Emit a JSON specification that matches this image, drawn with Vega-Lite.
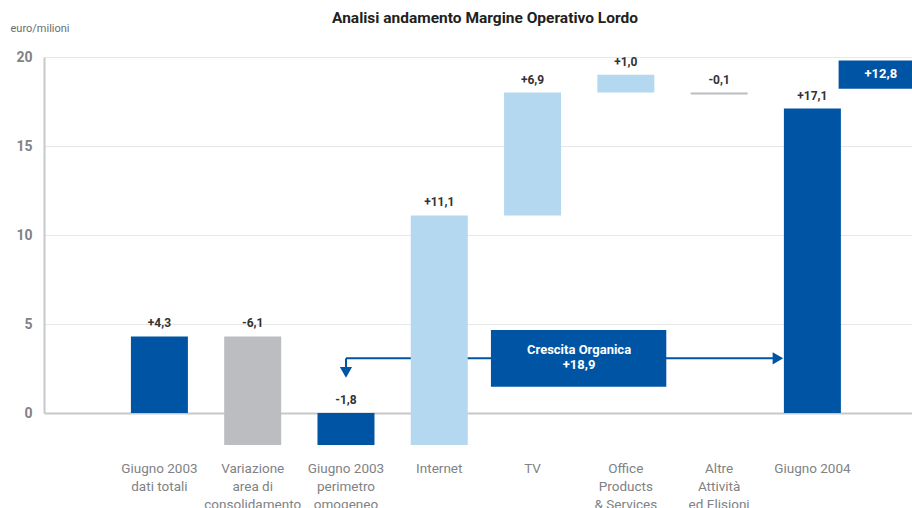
{
  "$schema": "https://vega.github.io/schema/vega-lite/v6.json",
  "width": 868,
  "height": 356,
  "autosize": {"type": "none"},
  "padding": {"left": 44, "top": 57, "right": 0, "bottom": 95},
  "background": "white",
  "title": {"text": "Analisi andamento Margine Operativo Lordo", "anchor": "middle", "fontSize": 15.5, "fontWeight": "bold", "color": "#231f20", "font": "Roboto", "offset": -4, "dx": 7},
  "config": {"view": {"stroke": null}, "font": "Roboto"},
  "datasets": {
    "bars": [
      {"cat": "Giugno 2003|dati totali", "lo": 0, "hi": 4.3, "kind": "total", "label": "+4,3"},
      {"cat": "Variazione|area di|consolidamento", "lo": -1.8, "hi": 4.3, "kind": "down", "label": "-6,1"},
      {"cat": "Giugno 2003|perimetro|omogeneo", "lo": -1.8, "hi": 0, "kind": "total", "label": "-1,8"},
      {"cat": "Internet", "lo": -1.8, "hi": 11.1, "kind": "up", "label": "+11,1"},
      {"cat": "TV", "lo": 11.1, "hi": 18.0, "kind": "up", "label": "+6,9"},
      {"cat": "Office|Products|& Services", "lo": 18.0, "hi": 19.0, "kind": "up", "label": "+1,0"},
      {"cat": "Altre|Attività|ed Elisioni", "lo": 17.9, "hi": 18.0, "kind": "down", "label": "-0,1"},
      {"cat": "Giugno 2004", "lo": 0, "hi": 17.1, "kind": "total", "label": "+17,1"}
    ],
    "notes": [
      {"name": "Crescita Organica", "value": "+18,9", "growth": "+12,8"}
    ]
  },
  "layer": [
    {
      "data": {"name": "notes"},
      "mark": {"type": "rule", "color": "#0054a4", "strokeWidth": 2},
      "encoding": {
        "x": {"datum": "Giugno 2003|perimetro|omogeneo", "type": "nominal", "bandPosition": 0.5},
        "x2": {"datum": "Giugno 2004", "bandPosition": -0.05},
        "y": {"datum": 3.07, "type": "quantitative"}
      }
    },
    {
      "data": {"name": "notes"},
      "mark": {"type": "rule", "color": "#0054a4", "strokeWidth": 2},
      "encoding": {
        "x": {"datum": "Giugno 2003|perimetro|omogeneo", "type": "nominal", "bandPosition": 0.5},
        "y": {"datum": 3.07, "type": "quantitative"},
        "y2": {"datum": 2.45}
      }
    },
    {
      "data": {"name": "bars"},
      "mark": {"type": "bar"},
      "encoding": {
        "x": {
          "field": "cat", "type": "nominal", "sort": null,
          "scale": {
            "domain": ["Giugno 2003|dati totali", "Variazione|area di|consolidamento", "Giugno 2003|perimetro|omogeneo", "Internet", "TV", "Office|Products|& Services", "Altre|Attività|ed Elisioni", "Giugno 2004"],
            "paddingInner": 0.389, "paddingOuter": 0.847, "align": 0.55
          },
          "axis": {"title": null, "labelExpr": "split(datum.label, '|')", "labelAlign": "center", "labelFontSize": 13.5, "labelColor": "#808285", "labelLineHeight": 18, "labelPadding": 55, "ticks": false, "domain": false, "labelOverlap": false, "labelAngle": 0}
        },
        "y": {
          "field": "lo", "type": "quantitative",
          "scale": {"domain": [0, 20], "nice": false},
          "axis": {
            "values": [0, 5, 10, 15, 20], "title": "euro/milioni", "titleAngle": 0, "titleAlign": "left", "titleBaseline": "middle", "titleX": -34, "titleY": -29, "titleFontSize": 11, "titleFontWeight": "normal", "titleColor": "#6d6e71",
            "labelFontSize": 14, "labelFontWeight": "bold", "labelColor": "#808285", "labelPadding": 12, "ticks": false,
            "domain": true, "domainColor": "#c7c8ca", "domainWidth": 2,
            "grid": true,
            "gridColor": {"condition": {"test": "datum.value === 0", "value": "#c7c8ca"}, "value": "#e6e7e8"},
            "gridWidth": {"condition": {"test": "datum.value === 0", "value": 2}, "value": 1.2}
          }
        },
        "y2": {"field": "hi"},
        "color": {"field": "kind", "type": "nominal", "scale": {"domain": ["total", "down", "up"], "range": ["#0054a4", "#bcbdc0", "#b5d8f1"]}, "legend": null}
      }
    },
    {
      "data": {"name": "notes"},
      "mark": {"type": "rect", "color": "#0054a4"},
      "encoding": {
        "x": {"datum": "TV", "type": "nominal", "bandPosition": -0.23},
        "x2": {"datum": "Office|Products|& Services", "bandPosition": 1.21},
        "y": {"datum": 1.48, "type": "quantitative"},
        "y2": {"datum": 4.66}
      }
    },
    {
      "data": {"name": "notes"},
      "mark": {"type": "point", "shape": "triangle-down", "filled": true, "color": "#0054a4", "opacity": 1, "size": 150},
      "encoding": {
        "x": {"datum": "Giugno 2003|perimetro|omogeneo", "type": "nominal", "bandPosition": 0.5},
        "y": {"datum": 2.28, "type": "quantitative"}
      }
    },
    {
      "data": {"name": "notes"},
      "mark": {"type": "point", "shape": "triangle-right", "filled": true, "color": "#0054a4", "opacity": 1, "size": 150},
      "encoding": {
        "x": {"datum": "Giugno 2004", "type": "nominal", "bandPosition": -0.105},
        "y": {"datum": 3.07, "type": "quantitative"}
      }
    },
    {
      "data": {"name": "notes"},
      "mark": {"type": "rect", "color": "#0054a4"},
      "encoding": {
        "x": {"datum": "Giugno 2004", "type": "nominal", "bandPosition": 0.96},
        "x2": {"datum": "Giugno 2004", "bandPosition": 2.25},
        "y": {"datum": 18.22, "type": "quantitative"},
        "y2": {"datum": 19.81}
      }
    },
    {
      "data": {"name": "notes"},
      "mark": {"type": "text", "color": "white", "fontSize": 13, "fontWeight": "bold", "baseline": "bottom", "dy": -1},
      "encoding": {
        "x": {"datum": "TV", "type": "nominal", "bandPosition": 1.316},
        "y": {"datum": 3.07, "type": "quantitative"},
        "text": {"field": "name"}
      }
    },
    {
      "data": {"name": "notes"},
      "mark": {"type": "text", "color": "white", "fontSize": 13, "fontWeight": "bold", "baseline": "top", "dy": 1},
      "encoding": {
        "x": {"datum": "TV", "type": "nominal", "bandPosition": 1.316},
        "y": {"datum": 3.07, "type": "quantitative"},
        "text": {"field": "value"}
      }
    },
    {
      "data": {"name": "notes"},
      "mark": {"type": "text", "color": "white", "fontSize": 13, "fontWeight": "bold", "baseline": "middle"},
      "encoding": {
        "x": {"datum": "Giugno 2004", "type": "nominal", "bandPosition": 1.7},
        "y": {"datum": 19.04, "type": "quantitative"},
        "text": {"field": "growth"}
      }
    },
    {
      "data": {"name": "bars"},
      "mark": {"type": "text", "dy": -6, "baseline": "bottom", "fontSize": 12, "fontWeight": "bold", "color": "#333333"},
      "encoding": {
        "x": {"field": "cat", "type": "nominal"},
        "y": {"field": "hi", "type": "quantitative"},
        "text": {"field": "label"}
      }
    }
  ]
}
